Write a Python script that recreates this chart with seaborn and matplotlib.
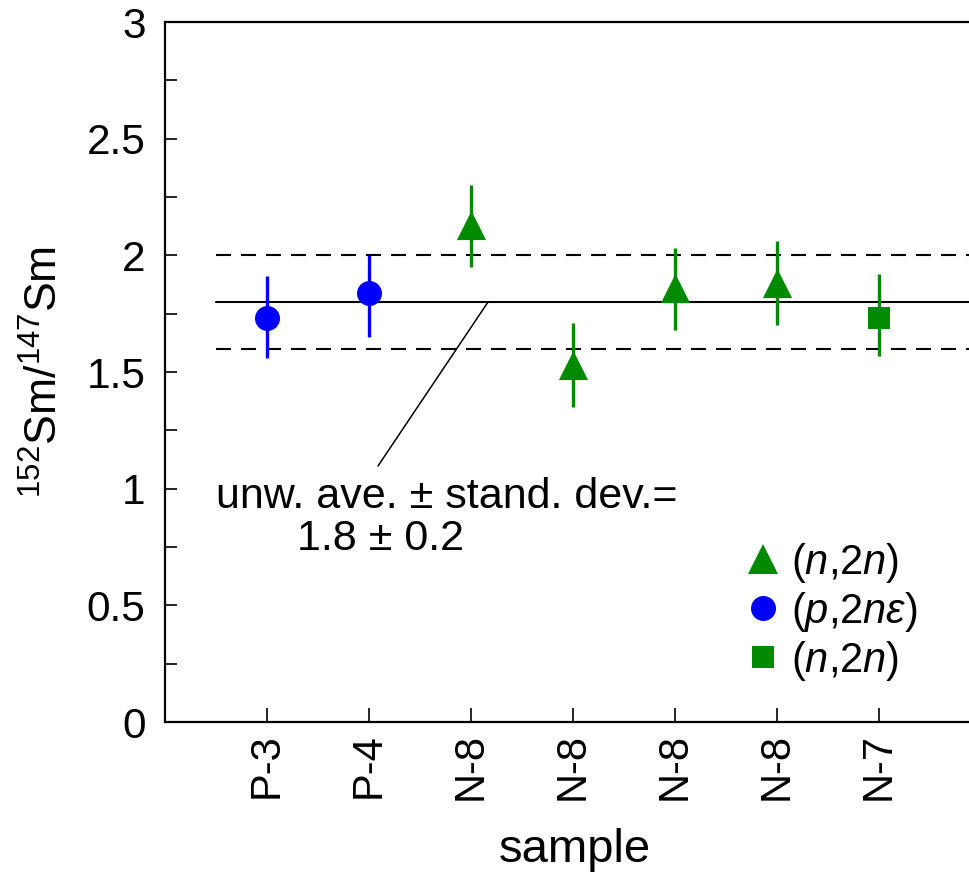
import numpy as np
import pandas as pd
import matplotlib
matplotlib.use("Agg")
import matplotlib.pyplot as plt
from matplotlib.lines import Line2D
import seaborn as sns

# ---- data ----
samples = ["P-3", "P-4", "N-8", "N-8", "N-8", "N-8", "N-7"]
ratio = [1.73, 1.84, 2.13, 1.53, 1.86, 1.88, 1.73]
err_low = [0.17, 0.19, 0.18, 0.18, 0.18, 0.18, 0.16]
err_high = [0.18, 0.16, 0.17, 0.18, 0.17, 0.18, 0.19]
groups = ["p2ne", "p2ne", "n2n_tri", "n2n_tri", "n2n_tri", "n2n_tri", "n2n_sq"]
average = 1.8
std_dev = 0.2
y_ticks = [0, 0.5, 1, 1.5, 2, 2.5, 3]
y_tick_labels = ["0", "0.5", "1", "1.5", "2", "2.5", "3"]

green = "#008a00"
blue = "#0000ff"
style = {
    "n2n_tri": dict(marker="^", color=green, ms=21),
    "p2ne": dict(marker="o", color=blue, ms=18),
    "n2n_sq": dict(marker="s", color=green, ms=16),
}
legend_order = ["n2n_tri", "p2ne", "n2n_sq"]
legend_labels = {
    "n2n_tri": r"($\mathit{n}$,2$\mathit{n}$)",
    "p2ne": r"($\mathit{p}$,2$\mathit{n\varepsilon}$)",
    "n2n_sq": r"($\mathit{n}$,2$\mathit{n}$)",
}

df = pd.DataFrame({"pos": np.arange(len(samples)), "sample": samples, "ratio": ratio,
                   "lo": err_low, "hi": err_high, "group": groups})

sns.set_style("ticks")
plt.rcParams["font.family"] = ["Liberation Sans", "DejaVu Sans"]
plt.rcParams["mathtext.fontset"] = "custom"
plt.rcParams["mathtext.rm"] = "Liberation Sans"
plt.rcParams["mathtext.it"] = "Liberation Sans:italic"
plt.rcParams["mathtext.bf"] = "Liberation Sans:bold"
for k in ["text.color", "axes.labelcolor", "xtick.color", "ytick.color", "axes.edgecolor"]:
    plt.rcParams[k] = "black"

W, H = 970, 877
fig = plt.figure(figsize=(W / 100, H / 100), dpi=100)
left_px, right_px, top_px, bot_px = 165, 970, 22, 722
ax = fig.add_axes([left_px / W, 1 - bot_px / H, (right_px - left_px) / W, (bot_px - top_px) / H])

# reference lines
xl = -0.5
xr = 8
ax.plot([xl, xr], [average, average], color="black", lw=1.5, zorder=1)
ax.plot([xl, xr], [average + std_dev] * 2, color="black", lw=1.5, dashes=(7.2, 4.8), zorder=1)
ax.plot([xl, xr], [average - std_dev] * 2, color="black", lw=1.5, dashes=(7.2, 4.8), zorder=1)

for g, sub in df.groupby("group"):
    st = style[g]
    sns.scatterplot(data=sub, x="pos", y="ratio", marker=st["marker"], color=st["color"],
                    s=st["ms"] ** 2, linewidth=0, ax=ax, zorder=3, legend=False)
    ax.errorbar(sub["pos"], sub["ratio"], yerr=[sub["lo"], sub["hi"]], fmt="none",
                ecolor=st["color"], elinewidth=2.4, capsize=0, zorder=4)

# annotation
ax.plot([2.167, 1.088], [1.80, 1.097], color="black", lw=1.1, zorder=2)
ax.text(-0.50, 0.917, "unw. ave. \u00b1 stand. dev.=", fontsize=31, ha="left", va="baseline")
ax.text(0.29, 0.737, "1.8 \u00b1 0.2", fontsize=31, ha="left", va="baseline")

ax.set_xlim(-1, -1 + (right_px - left_px) / 102)
ax.set_ylim(0, 3)
ax.set_xticks(df["pos"])
ax.set_xticklabels(samples, rotation=90, fontsize=30)
ax.set_yticks(y_ticks)
ax.set_yticklabels(y_tick_labels, fontsize=30.5)
ax.set_yticks(np.arange(0.25, 3, 0.5), minor=True)
ax.tick_params(axis="x", direction="in", length=10, width=1.2, pad=8, top=False)
ax.tick_params(axis="y", which="both", direction="in", length=8.6, width=1.2, pad=14, right=False)
ax.set_xlabel("sample", fontsize=34)
ax.set_ylabel(r"$^{152}$Sm/$^{147}$Sm", fontsize=32)
ax.xaxis.set_label_coords(0.509, -0.152)
ax.yaxis.set_label_coords(-0.122, 0.5)

for side in ["left", "bottom", "top"]:
    ax.spines[side].set_linewidth(1.6)
    ax.spines[side].set_visible(True)
ax.spines["right"].set_visible(False)

handles = [Line2D([], [], linestyle="none", marker=style[g]["marker"], color=style[g]["color"],
                  markersize=style[g]["ms"], markeredgewidth=0) for g in legend_order]
fs = 30
hl = 0.75
fs_px = fs * 100 / 72
leg = ax.legend(handles, [legend_labels[g] for g in legend_order], loc="upper left",
                bbox_to_anchor=((763 - hl * fs_px / 2) / W, 1 - 541 / H),
                bbox_transform=fig.transFigure, frameon=False, fontsize=fs,
                handlelength=hl, handletextpad=0.3, labelspacing=0.12,
                borderpad=0, borderaxespad=0)

fig.savefig("out.png", dpi=100)
